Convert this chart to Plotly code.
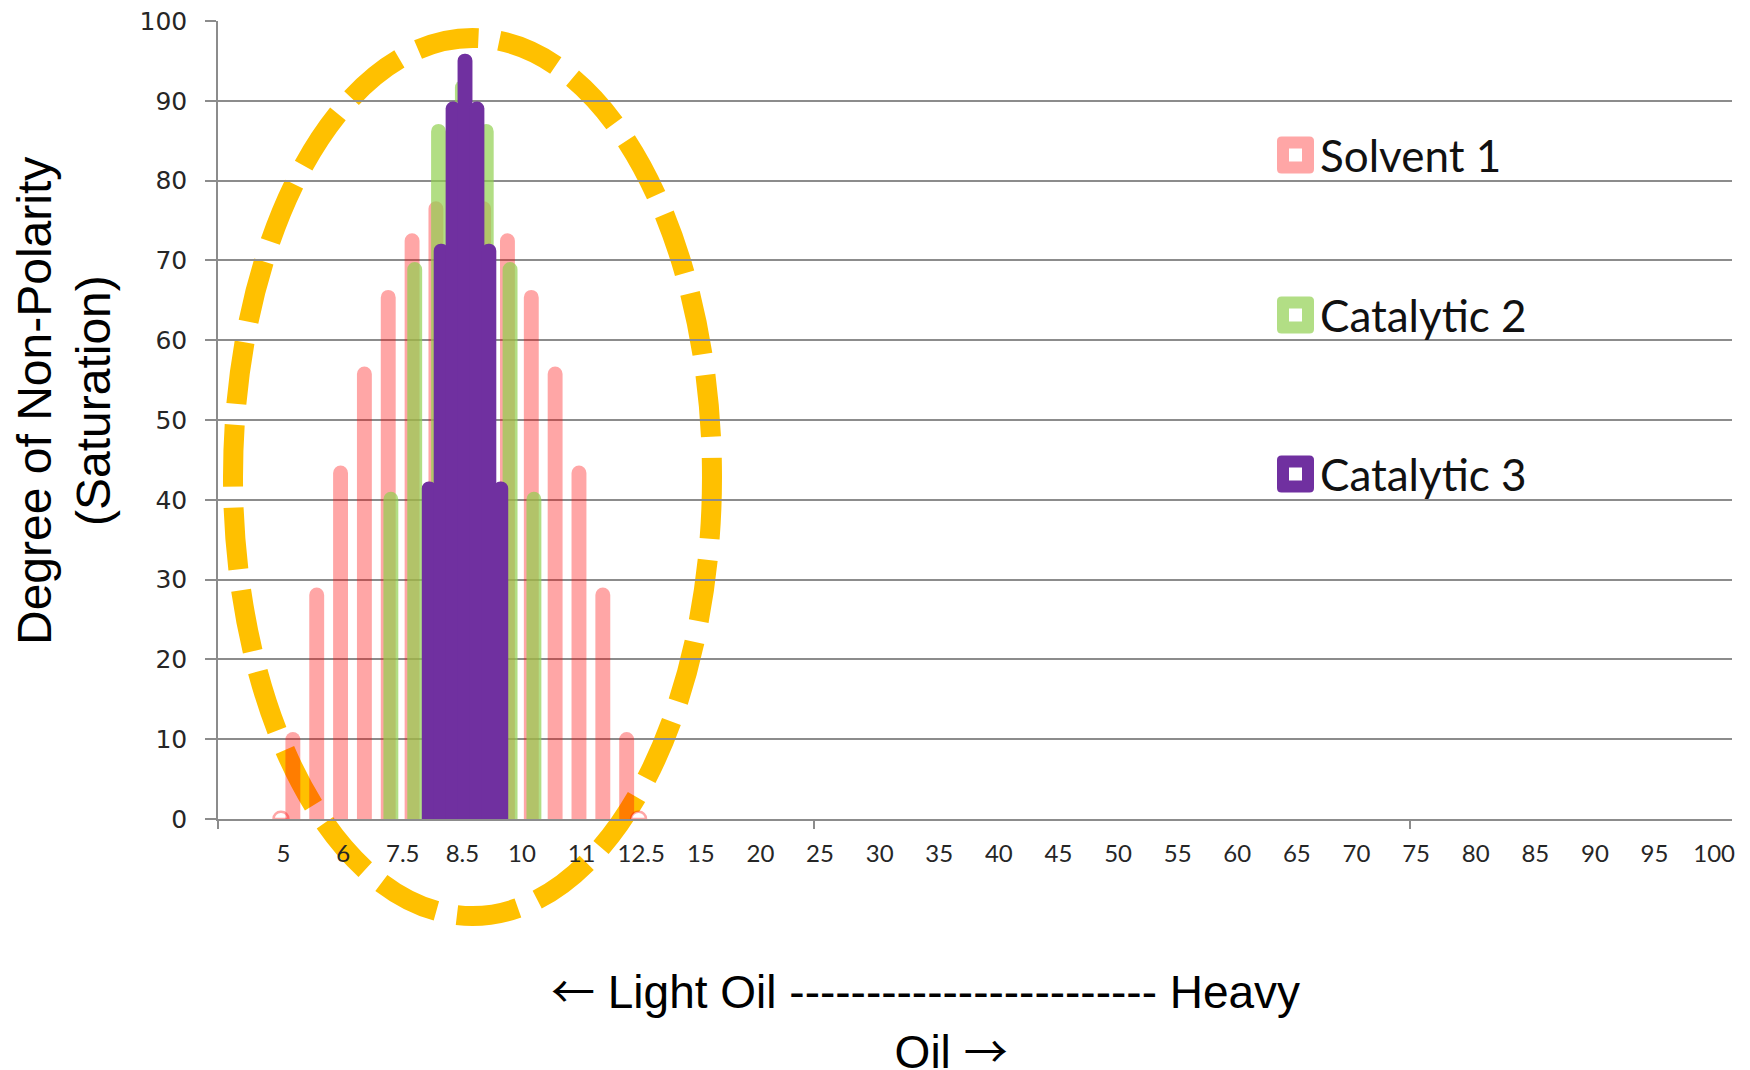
import plotly.graph_objects as go

# ---------------- data ----------------
# category axis: 127 fine slots, every 5th slot carries a label (starting at slot 5)
n_slots = 127
label_step = 5
tick_labels = ["5", "6", "7.5", "8.5", "10", "11", "12.5", "15", "20", "25", "30",
               "35", "40", "45", "50", "55", "60", "65", "70", "75", "80", "85",
               "90", "95", "100"]

solvent1_slots = [5, 6, 8, 10, 12, 14, 16, 18, 20, 22, 24, 26, 28, 30, 32, 34, 35]
solvent1_vals = [0.9, 10.9, 29.0, 44.3, 56.7, 66.3, 73.4, 77.4, 79.0, 77.4, 73.4,
                 66.3, 56.7, 44.3, 29.0, 10.9, 0.9]

catalytic2_slots = [14, 16, 18, 20, 22, 24, 26]
catalytic2_vals = [41.0, 69.8, 87.1, 92.6, 87.1, 69.8, 41.0]

catalytic3_slots = [17, 18, 19, 20, 21, 22, 23]
catalytic3_vals = [42.3, 72.1, 89.9, 95.9, 89.9, 72.1, 42.3]

series_names = ["Solvent 1", "Catalytic 2", "Catalytic 3"]

# ---------------- layout geometry (screen pixels) ----------------
PAGE_OFF = 8                      # default body margin of the html page
W, H = 1750 - PAGE_OFF, 1070 - PAGE_OFF
PL, PR, PT, PB = 218, 1732, 21, 819   # plot area on screen
ML = PL - PAGE_OFF
MT = PT - PAGE_OFF
MR = (PAGE_OFF + W) - PR
MB = (PAGE_OFF + H) - PB


def px_x(p):
    return (p - PL) / (PR - PL)


def px_y(p):
    return (PB - p) / (PB - PT)


PINK = "rgba(255,0,0,0.35)"
GREEN = "rgba(146,208,80,0.7)"
PURPLE = "#7030A0"
LEG_COLORS = ["#FFA6A6", "#B2DE85", "#7030A0"]
GRID = "#8C8C8C"
BAR_W = 1.25
SHIFT = 0.22

fig = go.Figure()

pink_fill = ["white" if v < 2 else PINK for v in solvent1_vals]
pink_line = [2.5 if v < 2 else 0 for v in solvent1_vals]

fig.add_trace(go.Bar(
    name=series_names[0], x=solvent1_slots, y=solvent1_vals,
    width=BAR_W, offset=-BAR_W / 2 - SHIFT,
    marker=dict(color=pink_fill, line=dict(color=PINK, width=pink_line),
                cornerradius="50%"),
    showlegend=False))
fig.add_trace(go.Bar(
    name=series_names[1], x=catalytic2_slots, y=catalytic2_vals,
    width=BAR_W, offset=-BAR_W / 2,
    marker=dict(color=GREEN, line=dict(width=0), cornerradius="50%"),
    showlegend=False))
fig.add_trace(go.Bar(
    name=series_names[2], x=catalytic3_slots, y=catalytic3_vals,
    width=BAR_W, offset=-BAR_W / 2 + SHIFT,
    marker=dict(color=PURPLE, line=dict(width=0), cornerradius="50%"),
    showlegend=False))

shapes = []
# dashed highlight ellipse (drawn beneath the bars)
shapes.append(dict(type="circle", xref="paper", yref="paper",
                   x0=px_x(233), x1=px_x(712), y0=px_y(916), y1=px_y(38),
                   line=dict(color="#FFC000", width=20, dash="62px,21px"),
                   fillcolor="rgba(0,0,0,0)", layer="below"))

# custom legend
leg_y_px = [155, 315, 474]
leg_sq_x_px = 1295.5
h = 18.5
r = 4.5
rounded = (f"M {-h + r},{-h} L {h - r},{-h} Q {h},{-h} {h},{-h + r} "
           f"L {h},{h - r} Q {h},{h} {h - r},{h} L {-h + r},{h} "
           f"Q {-h},{h} {-h},{h - r} L {-h},{-h + r} Q {-h},{-h} {-h + r},{-h} Z")
annotations = []
for name, col, ypx in zip(series_names, LEG_COLORS, leg_y_px):
    shapes.append(dict(type="path", xref="paper", yref="paper",
                       xsizemode="pixel", ysizemode="pixel",
                       xanchor=px_x(leg_sq_x_px), yanchor=px_y(ypx),
                       path=rounded, fillcolor=col, line=dict(width=0),
                       layer="above"))
    shapes.append(dict(type="rect", xref="paper", yref="paper",
                       xsizemode="pixel", ysizemode="pixel",
                       xanchor=px_x(leg_sq_x_px), yanchor=px_y(ypx),
                       x0=-6.5, x1=6.5, y0=-6.5, y1=6.5,
                       fillcolor="white", line=dict(width=0), layer="above"))
    annotations.append(dict(text=name, xref="paper", yref="paper",
                            x=px_x(1318), y=px_y(ypx), xanchor="left",
                            yanchor="middle", showarrow=False,
                            font=dict(family="Lato", size=44, color="#111111")))

# axis titles
TITLE_FONT = dict(family="Liberation Sans, Arial", size=48, color="#000000")
annotations.append(dict(text="Degree of Non-Polarity", textangle=-90,
                        xref="paper", yref="paper", x=px_x(34), y=px_y(401),
                        xanchor="center", yanchor="middle", showarrow=False,
                        font=TITLE_FONT))
annotations.append(dict(text="(Saturation)", textangle=-90,
                        xref="paper", yref="paper", x=px_x(93), y=px_y(401),
                        xanchor="center", yanchor="middle", showarrow=False,
                        font=TITLE_FONT))
XT_FONT = dict(family="Liberation Sans, Arial", size=46, color="#000000")
ARROW_STYLE = "font-family:'Noto Sans CJK JP';font-size:44px"
NB = "\u00a0"
x_title = (f"<span style=\"{ARROW_STYLE}\">\u2190</span> Light Oil " + "-" * 24
           + " Heavy<br>" + NB * 4 + f"Oil <span style=\"{ARROW_STYLE}\">\u2192</span>")
annotations.append(dict(text=x_title, align="center",
                        xref="paper", yref="paper", x=px_x(925), y=px_y(1019),
                        xanchor="center", yanchor="middle", showarrow=False,
                        font=XT_FONT))

fig.update_layout(
    width=W, height=H,
    margin=dict(l=ML, r=MR, t=MT, b=MB, pad=0, autoexpand=False),
    paper_bgcolor="white", plot_bgcolor="white",
    barmode="overlay",
    shapes=shapes, annotations=annotations,
    xaxis=dict(range=[-0.5, n_slots - 0.5], automargin=False,
               tickmode="array",
               tickvals=[label_step * (k + 1) for k in range(len(tick_labels))],
               ticktext=tick_labels, ticks="", showgrid=False, zeroline=False,
               showline=True, linecolor=GRID, linewidth=1.5,
               tickfont=dict(family="Lato", size=24, color="#262626"),
               ticklabelstandoff=12, ticklabeloverflow="allow",
               minor=dict(tick0=-0.5, dtick=50, ticks="outside", ticklen=8,
                          tickcolor=GRID, tickwidth=1.5, showgrid=False)),
    yaxis=dict(range=[0, 100], tick0=0, dtick=10, showgrid=True, automargin=False,
               gridcolor=GRID, gridwidth=1.5, zeroline=False,
               ticks="outside", ticklen=11, tickcolor=GRID, tickwidth=1.5,
               showline=True, linecolor=GRID, linewidth=1.5,
               tickfont=dict(family="DejaVu Sans", size=25, color="#262626"),
               ticklabelstandoff=13, ticklabeloverflow="allow"),
)

fig.write_html("out.html")
